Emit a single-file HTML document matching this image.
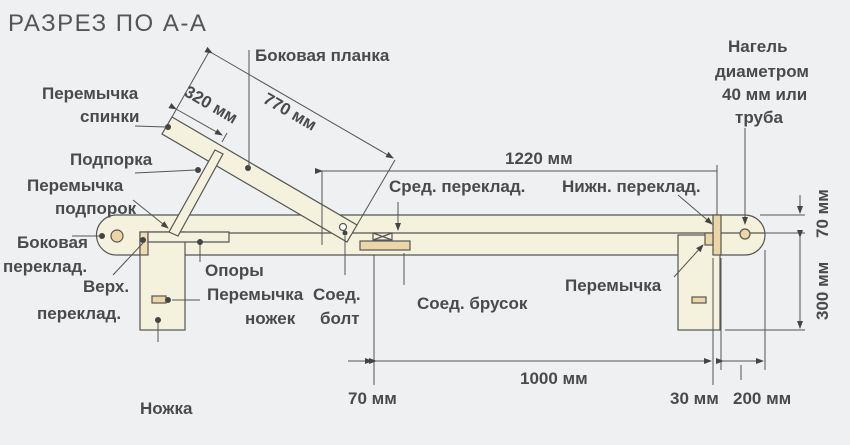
<!DOCTYPE html>
<html><head><meta charset="utf-8"><style>
html,body{margin:0;padding:0;background:#eef0f1;}
svg{display:block;}
text{font-family:"Liberation Sans",sans-serif;font-weight:bold;font-size:17px;fill:#4a4a4a;}
</style></head><body>
<svg width="850" height="445" viewBox="0 0 850 445" xmlns="http://www.w3.org/2000/svg">
<defs>
<marker id="a" markerWidth="8" markerHeight="8" refX="7" refY="4" orient="auto"><path d="M0,1 L8,4 L0,7z" fill="#444"/></marker>
</defs>
<rect width="850" height="445" fill="#eef0f1"/>
<text x="8" y="31" style="font-weight:normal;font-size:24px;letter-spacing:1.5px;fill:#555">РАЗРЕЗ ПО А-А</text>
<g stroke="#555" stroke-width="1.2" fill="#f4f2dc">
<path d="M115,215 H745 A20,20 0 0 1 745,255 H118 A20,20 0 0 1 115,215 Z"/>
<line x1="140" y1="233" x2="765" y2="233"/>
<rect x="140" y="232" width="45" height="98"/>
<rect x="140" y="232" width="8" height="23" fill="#ecdcb0"/>
<path d="M148,232 H229 V242 H148 Z"/>
<rect x="678" y="235" width="42" height="95"/>
<rect x="713" y="215" width="8" height="40" fill="#ecd6a8"/>
<rect x="705" y="233" width="8" height="12" fill="#ecd6a8"/>
<rect x="360" y="241" width="50" height="9" fill="#ecd6a8"/>
<rect x="373" y="233" width="19" height="7"/>
<path d="M373,233 L392,240 M373,240 L392,233" fill="none"/>
<rect x="152" y="296" width="14" height="7" fill="#ecd6a8"/>
<rect x="692" y="297" width="14" height="6" fill="#ecd6a8"/>
<path d="M172,117 L357,225 L347,242 L162,134 Z"/>
<path d="M215,150 L223,154 L178,236 L169,232 Z"/>
</g>
<g fill="#fff" stroke="#555" stroke-width="1.2">
<circle cx="117" cy="236" r="6" fill="#ecd6a8"/>
<circle cx="745" cy="234" r="5" fill="#ecd6a8"/>
<circle cx="343" cy="227" r="3.5"/>
</g>
<g fill="#444">
<circle cx="102" cy="236" r="3"/><circle cx="143" cy="240" r="3"/><circle cx="200" cy="242" r="3"/>
<circle cx="168" cy="300" r="3"/><circle cx="158" cy="320" r="3"/><circle cx="248" cy="168" r="3"/>
<circle cx="198" cy="170" r="3"/><circle cx="168" cy="127" r="3"/><circle cx="345" cy="233" r="2.5"/>
</g>
<g stroke="#555" stroke-width="1" fill="none">
<line x1="249" y1="50" x2="249" y2="168"/>
<line x1="135" y1="126" x2="166" y2="127"/>
<line x1="135" y1="173" x2="196" y2="170"/>
<line x1="133" y1="200" x2="168" y2="228" marker-end="url(#a)"/>
<line x1="72" y1="236" x2="100" y2="236"/>
<line x1="113" y1="275" x2="143" y2="243"/>
<line x1="200" y1="245" x2="200" y2="262"/>
<line x1="172" y1="300" x2="200" y2="300"/>
<line x1="158" y1="323" x2="158" y2="342"/>
<line x1="345" y1="236" x2="345" y2="275"/>
<line x1="398" y1="202" x2="398" y2="230" marker-end="url(#a)"/>
<line x1="404" y1="253" x2="404" y2="285"/>
<line x1="678" y1="195" x2="712" y2="224" marker-end="url(#a)"/>
<line x1="674" y1="277" x2="703" y2="245" marker-end="url(#a)"/>
<line x1="745" y1="128" x2="745" y2="224" marker-end="url(#a)"/>
<line x1="172" y1="117" x2="210" y2="50"/>
<line x1="357" y1="225" x2="395" y2="160"/>
<line x1="212" y1="53" x2="393" y2="158" marker-start="url(#a)" marker-end="url(#a)"/>
<line x1="227" y1="133" x2="222" y2="142"/>
<line x1="176" y1="109" x2="222" y2="135" marker-start="url(#a)" marker-end="url(#a)"/>
<line x1="322" y1="171" x2="322" y2="245"/>
<line x1="717" y1="165" x2="717" y2="215"/>
<line x1="322" y1="171" x2="717" y2="171" marker-start="url(#a)"/>
<line x1="760" y1="215" x2="805" y2="215"/>
<line x1="760" y1="233" x2="805" y2="233"/>
<line x1="725" y1="330" x2="805" y2="330"/>
<line x1="800" y1="195" x2="800" y2="213" marker-end="url(#a)"/>
<line x1="800" y1="237" x2="800" y2="328" marker-start="url(#a)" marker-end="url(#a)"/>
<line x1="374" y1="255" x2="374" y2="385"/>
<line x1="713" y1="258" x2="713" y2="385"/>
<line x1="721" y1="258" x2="721" y2="370"/>
<line x1="765" y1="250" x2="765" y2="370"/>
<line x1="376" y1="361" x2="711" y2="361" marker-start="url(#a)" marker-end="url(#a)"/>
<line x1="348" y1="361" x2="372" y2="361" marker-end="url(#a)"/>
<line x1="723" y1="361" x2="763" y2="361" marker-start="url(#a)" marker-end="url(#a)"/>
<line x1="741" y1="365" x2="741" y2="380"/>
</g>
<text x="255" y="61">Боковая планка</text>
<text x="42" y="99">Перемычка</text>
<text x="80" y="122">спинки</text>
<text transform="translate(183,95) rotate(30)">320 мм</text>
<text transform="translate(262,102) rotate(30)">770 мм</text>
<text x="70" y="165">Подпорка</text>
<text x="27" y="191">Перемычка</text>
<text x="55" y="214">подпорок</text>
<text x="17" y="248">Боковая</text>
<text x="3" y="272">переклад.</text>
<text x="83" y="292">Верх.</text>
<text x="37" y="319">переклад.</text>
<text x="140" y="414">Ножка</text>
<text x="205" y="276">Опоры</text>
<text x="207" y="300">Перемычка</text>
<text x="245" y="324">ножек</text>
<text x="313" y="300">Соед.</text>
<text x="320" y="324">болт</text>
<text x="417" y="309">Соед. брусок</text>
<text x="389" y="192">Сред. переклад.</text>
<text x="562" y="192">Нижн. переклад.</text>
<text x="505" y="164">1220 мм</text>
<text x="728" y="52">Нагель</text>
<text x="715" y="77">диаметром</text>
<text x="722" y="100">40 мм или</text>
<text x="735" y="123">труба</text>
<text x="565" y="291">Перемычка</text>
<text x="520" y="384">1000 мм</text>
<text x="348" y="404">70 мм</text>
<text x="670" y="404">30 мм</text>
<text x="733" y="404">200 мм</text>
<text transform="translate(828,238) rotate(-90)">70 мм</text>
<text transform="translate(828,320) rotate(-90)">300 мм</text>
</svg>
</body></html>
